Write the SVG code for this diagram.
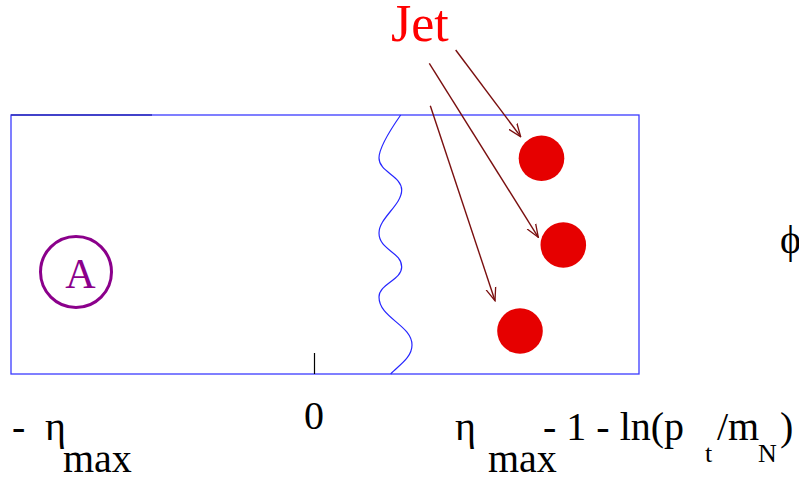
<svg xmlns="http://www.w3.org/2000/svg" width="799" height="483" viewBox="0 0 799 483">
<style>
text{font-family:"Liberation Serif","Times New Roman",Times,"DejaVu Serif",serif}
.lbl{font-size:40px;fill:#000}
.sub{font-size:26px;fill:#000}
.dot{fill:#e60000}
.arr{stroke:#7a0f0f;stroke-width:1.4;fill:none;marker-end:url(#ah)}
</style>
<defs>
<marker id="ah" markerUnits="userSpaceOnUse" markerWidth="14" markerHeight="12" refX="13" refY="5" orient="auto" viewBox="0 0 14 10">
<path d="M0,0 L13,5 L0,10" fill="none" stroke="#7a0f0f" stroke-width="1.3"/>
</marker>
</defs>
<rect width="799" height="483" fill="#fff"/>
<g id="box">
<rect x="11" y="115" width="628" height="259" fill="none" stroke="#3b3bff" stroke-width="1.3"/>
<line x1="11" y1="115" x2="152" y2="115" stroke="#2e2eb8" stroke-width="1.5"/>
<line x1="314.5" y1="353" x2="314.5" y2="374" stroke="#000" stroke-width="1.2"/>
</g>
<g id="wave">
<path d="M400.7,115 C393,126 379,146 379,158 C379,172 401.7,176 401.7,190 C401.7,205 379,218 379,233 C379,250 401.7,252 401.7,267 C401.7,280 379,284 379,297 C379,318 412,325 412,345 C412,358 398,366 390.7,374" fill="none" stroke="#2626ff" stroke-width="1.2"/>
</g>
<g id="nodeA">
<circle cx="76" cy="272" r="35.5" fill="none" stroke="#8b008b" stroke-width="3"/>
<text x="80.5" y="287.5" text-anchor="middle" font-size="42" fill="#8b008b">A</text>
</g>
<g id="jet1"><circle class="dot" cx="541.5" cy="158.3" r="22.8"/></g>
<g id="jet2"><circle class="dot" cx="563.3" cy="245" r="22.8"/></g>
<g id="jet3"><circle class="dot" cx="520" cy="331" r="22.8"/></g>
<g id="jetLabel"><text x="391" y="41" font-size="52" fill="#ff0000">Jet</text></g>
<g id="connectors">
<line class="arr" x1="455.7" y1="50" x2="520.7" y2="136.7"/>
<line class="arr" x1="429.3" y1="63.3" x2="538.3" y2="237.3"/>
<line class="arr" x1="430.3" y1="105.7" x2="495" y2="300.7"/>
</g>
<g id="axisLabels">
<text class="lbl" x="12" y="440">-</text>
<text class="lbl" x="45" y="440">η</text>
<text class="lbl" x="63" y="472">max</text>
<text class="lbl" x="304" y="429">0</text>
<text class="lbl" x="455" y="440">η</text>
<text class="lbl" x="488" y="472">max</text>
<text class="lbl" x="543" y="440" xml:space="preserve">- 1 - ln(p</text>
<text class="sub" x="705" y="462">t</text>
<text class="lbl" x="717" y="440">/m</text>
<text class="sub" x="758" y="462">N</text>
<text class="lbl" x="780" y="253">ϕ</text>
<text class="lbl" x="780" y="440">)</text>
</g>
</svg>
